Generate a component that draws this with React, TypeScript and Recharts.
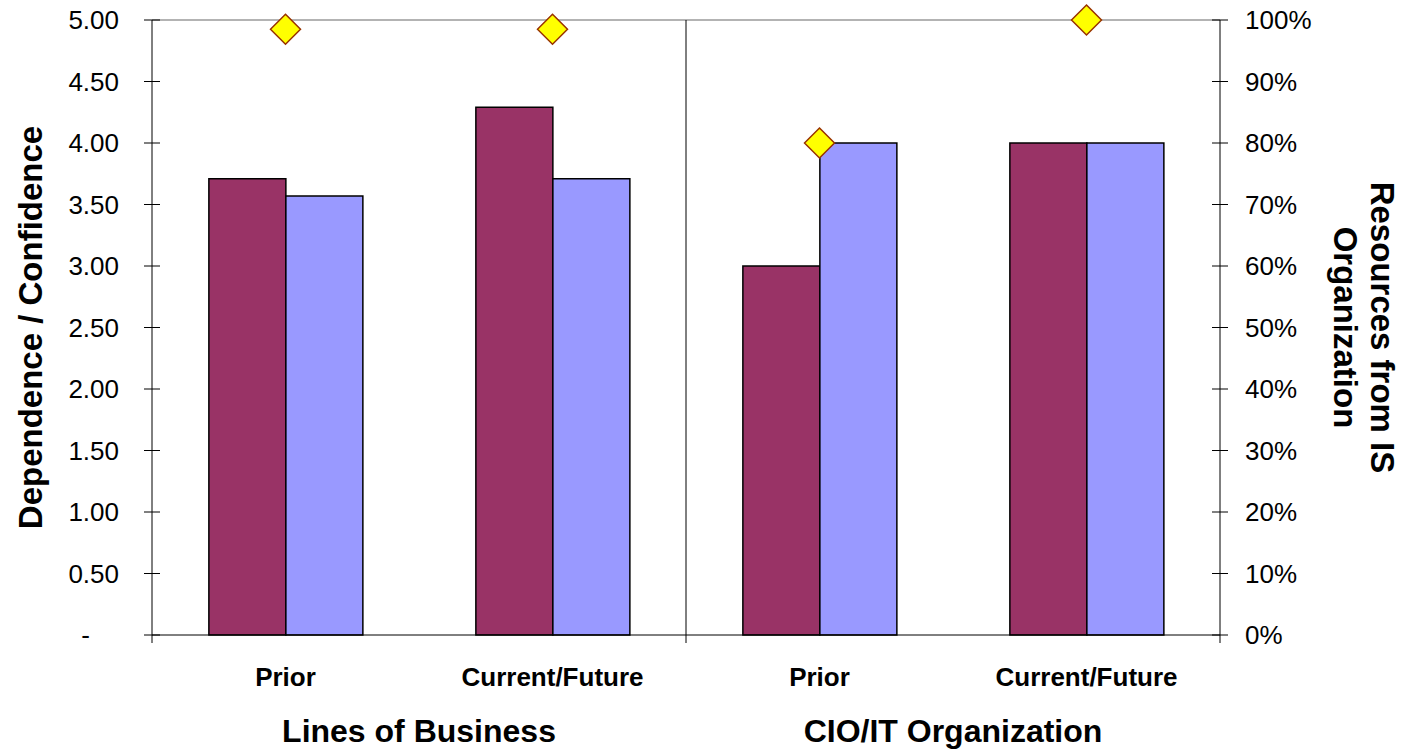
import React from 'react'
import { Bar, ComposedChart, ReferenceLine, Scatter, XAxis, YAxis } from 'recharts'

const FONT = '"Liberation Sans", Arial, sans-serif'

// one row per column group, keyed so the two "Current/Future" columns stay distinct
const categoryKeys = ['lob-prior', 'lob-current', 'cio-prior', 'cio-current']
const categoryLabels = ['Prior', 'Current/Future', 'Prior', 'Current/Future']
const groupLabels = ['Lines of Business', 'CIO/IT Organization']

const dependence = [3.71, 4.29, 3.0, 4.0]
const confidence = [3.57, 3.71, 4.0, 4.0]
const isResourceShare = [0.985, 0.985, 0.8, 1.0]

const leftTicks = [0, 0.5, 1, 1.5, 2, 2.5, 3, 3.5, 4, 4.5, 5]
const rightTicks = [0, 0.1, 0.2, 0.3, 0.4, 0.5, 0.6, 0.7, 0.8, 0.9, 1]

const rows = categoryKeys.map((key, i) => ({
  key,
  label: categoryLabels[i],
  dependence: dependence[i],
  confidence: confidence[i],
  share: isResourceShare[i],
}))

const TICK = 8
const X_TICK_MARGIN = 10

const LeftTick = (props: any) => {
  const { x, y, payload } = props
  const axisX = x + TICK + 25
  const v = payload.value as number
  const text = v === 0 ? '-' : v.toFixed(2)
  return (
    <g>
      <line x1={axisX - TICK} x2={axisX + TICK} y1={y} y2={y} stroke="#000" />
      <text
        x={v === 0 ? x - 29 : x}
        y={y}
        dy="0.36em"
        textAnchor="end"
        fontFamily={FONT}
        fontSize={26}
        fill="#000"
      >
        {text}
      </text>
    </g>
  )
}

const RightTick = (props: any) => {
  const { x, y, payload } = props
  const axisX = x - TICK - 17
  return (
    <g>
      <line x1={axisX - TICK} x2={axisX + TICK} y1={y} y2={y} stroke="#000" />
      <text x={x} y={y} dy="0.36em" textAnchor="start" fontFamily={FONT} fontSize={26} fill="#000">
        {Math.round((payload.value as number) * 100)}%
      </text>
    </g>
  )
}

// category label plus the short marks at the group edges below the axis
const CategoryTick = (props: any) => {
  const { x, y, payload, index } = props
  const half = payload.offset ?? 0
  const axisY = y - TICK - X_TICK_MARGIN
  const marks: number[] = []
  if (index === 0) marks.push(x - half)
  if (index % 2 === 1) marks.push(x + half)
  return (
    <g>
      {marks.map((mx) => (
        <line key={mx} x1={mx} x2={mx} y1={axisY} y2={axisY + TICK} stroke="#000" />
      ))}
      <text
        x={x}
        y={axisY + 51}
        textAnchor="middle"
        fontFamily={FONT}
        fontSize={26}
        fontWeight="bold"
        fill="#000"
      >
        {categoryLabels[index]}
      </text>
    </g>
  )
}

const Diamond = (props: any) => {
  const { cx, cy } = props
  const r = 15
  return (
    <polygon
      points={`${cx},${cy - r} ${cx + r},${cy} ${cx},${cy + r} ${cx - r},${cy}`}
      fill="#FFFF00"
      stroke="#993300"
      strokeWidth={1.5}
    />
  )
}

const leftTitle = (p: any) => {
  const vb = p.viewBox
  const cx = vb.x + 30
  const cy = vb.y + vb.height / 2
  return (
    <text
      x={cx}
      y={cy}
      transform={`rotate(-90 ${cx} ${cy})`}
      textAnchor="middle"
      dy="0.36em"
      fontFamily={FONT}
      fontSize={33}
      fontWeight="bold"
      fill="#000"
    >
      Dependence / Confidence
    </text>
  )
}

const rightTitle = (p: any) => {
  const vb = p.viewBox
  const cy = vb.y + vb.height / 2
  const lines = [
    { t: 'Resources from IS', x: vb.x + 163 },
    { t: 'Organization', x: vb.x + 126 },
  ]
  return (
    <g>
      {lines.map((l) => (
        <text
          key={l.t}
          x={l.x}
          y={cy}
          transform={`rotate(90 ${l.x} ${cy})`}
          textAnchor="middle"
          dy="0.36em"
          fontFamily={FONT}
          fontSize={33}
          fontWeight="bold"
          fill="#000"
        >
          {l.t}
        </text>
      ))}
    </g>
  )
}

const groupTitle = (p: any) => {
  const vb = p.viewBox
  return (
    <g>
      {groupLabels.map((g, i) => (
        <text
          key={g}
          x={vb.x + (vb.width * (2 * i + 1)) / 4}
          y={vb.y + 107}
          textAnchor="middle"
          fontFamily={FONT}
          fontSize={32}
          fontWeight="bold"
          fill="#000"
        >
          {g}
        </text>
      ))}
    </g>
  )
}

export default function App() {
  return (
    <div style={{ position: 'absolute', left: 0, top: 0, background: '#fff' }}>
      <ComposedChart
        width={1404}
        height={750}
        data={rows}
        margin={{ top: 20, right: 0, bottom: 0, left: 0 }}
        barCategoryGap="21.3%"
        barGap={0}
      >
        <XAxis
          dataKey="key"
          height={115}
          axisLine={{ stroke: '#000' }}
          tickLine={false}
          tickSize={TICK}
          tickMargin={X_TICK_MARGIN}
          tick={<CategoryTick />}
          interval={0}
          label={groupTitle}
        />
        <YAxis
          yAxisId="left"
          width={152}
          domain={[0, 5]}
          ticks={leftTicks}
          interval={0}
          axisLine={{ stroke: '#000' }}
          tickLine={false}
          tickSize={TICK}
          tickMargin={25}
          tick={<LeftTick />}
          label={leftTitle}
        />
        <YAxis
          yAxisId="right"
          orientation="right"
          width={184}
          domain={[0, 1]}
          ticks={rightTicks}
          interval={0}
          axisLine={{ stroke: '#000' }}
          tickLine={false}
          tickSize={TICK}
          tickMargin={17}
          tick={<RightTick />}
          label={rightTitle}
        />
        <ReferenceLine yAxisId="left" y={5} stroke="#9a9a9a" strokeWidth={1.5} />
        <ReferenceLine yAxisId="left" x="lob-current" position="end" stroke="#000" />
        <Bar
          yAxisId="left"
          dataKey="dependence"
          name="Dependence"
          fill="#993366"
          stroke="#000"
          strokeWidth={1.5}
          isAnimationActive={false}
        />
        <Bar
          yAxisId="left"
          dataKey="confidence"
          name="Confidence"
          fill="#9999FF"
          stroke="#000"
          strokeWidth={1.5}
          isAnimationActive={false}
        />
        <Scatter
          yAxisId="right"
          dataKey="share"
          name="Resources from IS Organization"
          shape={<Diamond />}
          isAnimationActive={false}
        />
      </ComposedChart>
    </div>
  )
}
